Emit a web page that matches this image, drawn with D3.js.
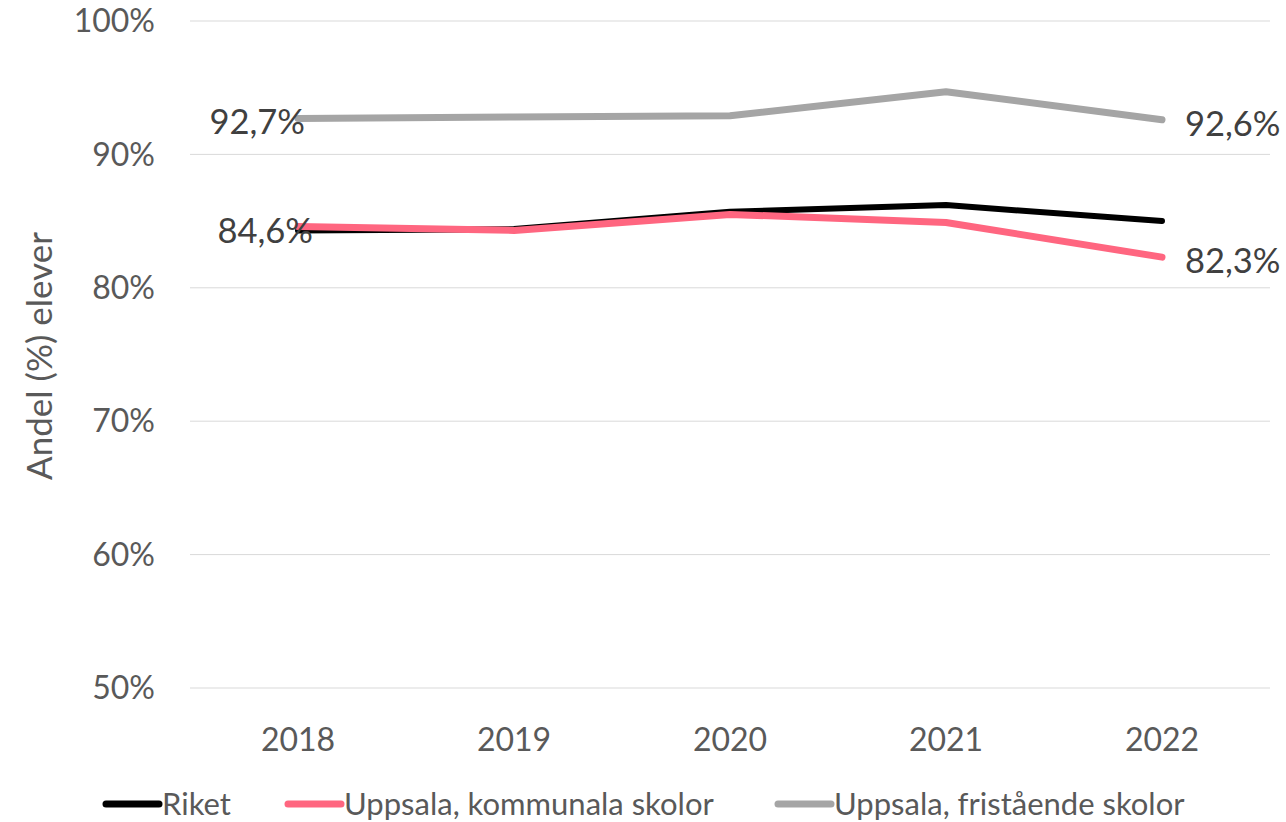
<!DOCTYPE html>
<meta charset="utf-8">
<style>
body { margin: 0; background: #fff; }
text { font-family: "Source Sans Pro", Lato, "Noto Sans", sans-serif; }
.grid line { stroke: #d9d9d9; stroke-width: 1px; }
.tick-label { font-size: 32px; fill: #595959; }
.axis-title { font-size: 35px; fill: #595959; }
.legend-label { font-size: 31px; fill: #595959; }
.line { fill: none; stroke-linejoin: round; stroke-linecap: round; }
.label { font-size: 34.5px; fill: #404040; }
</style>
<body>
<script src="https://d3js.org/d3.v7.min.js"></script>
<script>

const years = ["2018", "2019", "2020", "2021", "2022"];
const yTicks = [50, 60, 70, 80, 90, 100];

const riket = [84.3, 84.4, 85.7, 86.2, 85.0];
const kommunala = [84.6, 84.3, 85.5, 84.9, 82.3];
const fristaende = [92.7, 92.8, 92.9, 94.7, 92.6];

const seriesNames = ["Riket", "Uppsala, kommunala skolor", "Uppsala, fristående skolor"];
const seriesColors = ["#000000", "#ff6680", "#a5a5a5"];

const width = 1286;
const height = 822;

const svg = d3.select("body").append("svg")
    .attr("width", width)
    .attr("height", height);

const x = d3.scaleBand().domain(years).range([190, 1270]);
const y = d3.scaleLinear().domain([50, 100]).range([688, 21]);
const cx = d => x(d) + x.bandwidth() / 2;

// gridlines
svg.append("g").attr("class", "grid")
  .selectAll("line")
  .data(yTicks)
  .enter().append("line")
    .attr("x1", 190).attr("x2", 1270)
    .attr("y1", d => y(d)).attr("y2", d => y(d));

svg.append("g")
  .selectAll("text")
  .data(yTicks)
  .enter().append("text")
    .attr("class", "tick-label")
    .attr("x", 155)
    .attr("y", d => y(d))
    .attr("dy", "0.35em")
    .attr("text-anchor", "end")
    .text(d => d + "%");

svg.append("g")
  .selectAll("text")
  .data(years)
  .enter().append("text")
    .attr("class", "tick-label")
    .attr("x", d => cx(d))
    .attr("y", 740)
    .attr("dy", "0.35em")
    .attr("text-anchor", "middle")
    .text(d => d);

svg.append("text")
    .attr("class", "axis-title")
    .attr("transform", "translate(40,356) rotate(-90)")
    .attr("dy", "0.35em")
    .attr("text-anchor", "middle")
    .text("Andel (%) elever");

const line = d3.line()
    .x((d, i) => cx(years[i]))
    .y(d => y(d));

const allSeries = [
  { name: seriesNames[0], values: riket, color: seriesColors[0], w: 6 },
  { name: seriesNames[2], values: fristaende, color: seriesColors[2], w: 7 },
  { name: seriesNames[1], values: kommunala, color: seriesColors[1], w: 7 }
];

svg.selectAll(".line")
  .data(allSeries)
  .enter().append("path")
    .attr("class", "line")
    .attr("stroke", d => d.color)
    .attr("stroke-width", d => d.w)
    .attr("d", d => line(d.values));

// data labels (first and last point for the Uppsala series)
const fmt = v => d3.format(".1f")(v).replace(".", ",") + "%";
const labels = [
  { v: fristaende[0], i: 0, anchor: "end", dx: 7 },
  { v: fristaende[4], i: 4, anchor: "start", dx: 23 },
  { v: kommunala[0], i: 0, anchor: "end", dx: 15 },
  { v: kommunala[4], i: 4, anchor: "start", dx: 23 }
];

svg.selectAll(".label")
  .data(labels)
  .enter().append("text")
    .attr("class", "label")
    .attr("x", d => cx(years[d.i]) + d.dx)
    .attr("y", d => y(d.v) + 4)
    .attr("dy", "0.35em")
    .attr("text-anchor", d => d.anchor)
    .text(d => fmt(d.v));

// legend
const legendX = [103, 285, 775];
const legend = svg.selectAll(".legend")
  .data(seriesNames)
  .enter().append("g")
    .attr("class", "legend")
    .attr("transform", (d, i) => `translate(${legendX[i]},804)`);

legend.append("line")
    .attr("x1", 3).attr("x2", 56)
    .attr("stroke", (d, i) => seriesColors[i])
    .attr("stroke-width", 7)
    .attr("stroke-linecap", "round");

legend.append("text")
    .attr("class", "legend-label")
    .attr("x", 59)
    .attr("dy", "0.35em")
    .text(d => d);

</script>
</body>
